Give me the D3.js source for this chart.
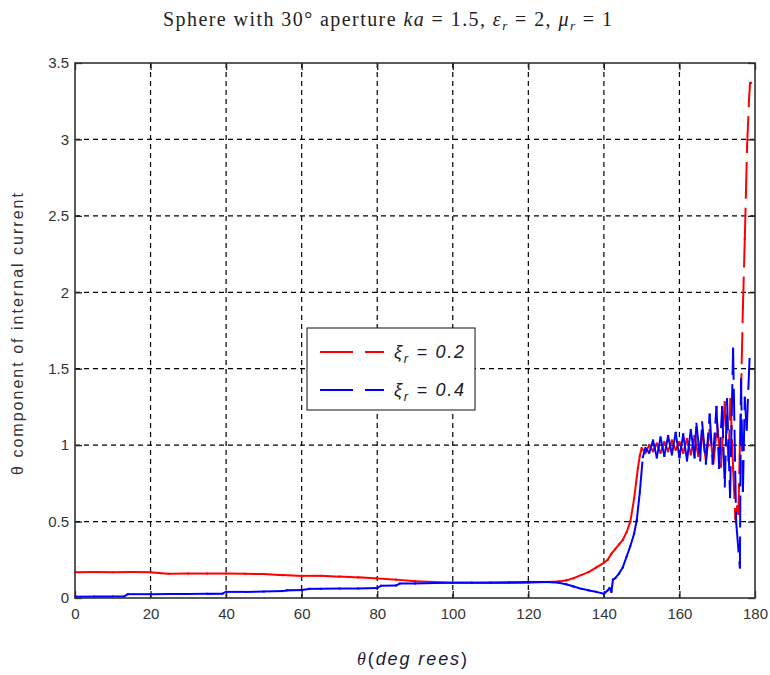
<!DOCTYPE html>
<html>
<head>
<meta charset="utf-8">
<script src="https://cdn.jsdelivr.net/npm/d3@7"></script>
<style>
  body { margin: 0; background: #fff; }
</style>
</head>
<body>
<div id="chart"></div>
<script>
// values
var xTicks = [0, 20, 40, 60, 80, 100, 120, 140, 160, 180];
var yTicks = [0, 0.5, 1, 1.5, 2, 2.5, 3, 3.5];

// xi_r = 0.2 (red)
var thetaXi02 = [0,5,10,15,20,25,30,35,40,45, 50,55,60,65,70,75,80,85,90,95,
    100,105,110,115,120,125,128,130,132,134, 136,138,140,141,142,143,144,145,146,147,
    148,148.5,149,149.5,150,151,152,153,154,155, 156,157,158,159,160,161,162,163,164,165,
    166,167,168,169,170,171,172,173,173.5,174.2, 174.8,175.3,175.6,176,176.8,177.3,177.6,177.9,178.4,178.7,
    179];
var currentXi02 = [0.168,0.17,0.168,0.17,0.168,0.158,0.16,0.16,0.16,0.158, 0.157,0.15,0.145,0.145,0.14,0.135,0.128,0.12,0.11,0.105,
    0.1,0.1,0.098,0.098,0.1,0.105,0.108,0.115,0.13,0.15, 0.17,0.2,0.23,0.25,0.29,0.32,0.35,0.38,0.43,0.5,
    0.65,0.75,0.85,0.93,0.98,0.95,1.0,0.96,1.01,0.95, 1.02,0.96,1.03,0.97,1.02,0.95,1.04,0.94,1.06,0.93,
    1.08,0.9,1.1,0.88,1.14,0.86,1.28,0.9,1.3,0.85, 0.52,0.6,0.55,1.0,1.9,2.35,2.65,2.95,3.25,3.37,
    3.37];

// xi_r = 0.4 (blue)
var thetaXi04 = [0,5,10,13,14,20,25,30,35,39, 40,45,50,55,56,60,62,65,70,75,
    80,81,85,86,90,95,100,105,110,115, 120,125,128,130,132,134,136,138,140,141,
    141.5,142,142.4,143,144,145,146,147,148,148.7, 149.5,150.3,151,152,153,154,155,156,157,158,
    159,160,161,162,163,164,164.5,165.5,166,167, 168,168.8,169.8,170.5,171.3,172,172.6,173.4,174.2,175,
    176,176.3,176.8,177.3,177.8,178.6];
var currentXi04 = [0.009,0.009,0.01,0.01,0.025,0.025,0.026,0.026,0.027,0.028, 0.04,0.04,0.042,0.045,0.05,0.052,0.06,0.06,0.062,0.062,
    0.065,0.08,0.082,0.095,0.095,0.098,0.1,0.1,0.102,0.103, 0.105,0.105,0.1,0.09,0.075,0.06,0.05,0.04,0.028,0.05,
    0.065,0.04,0.12,0.13,0.16,0.2,0.27,0.34,0.42,0.51, 0.69,0.92,0.98,0.95,1.03,0.92,1.05,0.93,1.06,0.94,
    1.08,0.92,1.07,0.9,1.1,0.92,1.14,0.9,1.15,0.88, 1.2,0.88,1.25,0.85,1.25,0.73,1.3,0.66,1.63,0.5,
    0.2,1.43,0.7,1.31,1.1,1.59];

var legendLabels = ["0.2", "0.4"];
var seriesColors = ["#ff0000", "#0000ff"];

var margin = {top: 63, right: 15, bottom: 77, left: 75},
    width = 770 - margin.left - margin.right,
    height = 675 - margin.top - margin.bottom;

var svg = d3.select("#chart").append("svg")
    .attr("width", 770)
    .attr("height", 675)
    .style("background", "#fff");

var g = svg.append("g")
    .attr("transform", "translate(" + margin.left + "," + margin.top + ")");

var x = d3.scaleLinear().domain([0, 180]).range([0, width]);
var y = d3.scaleLinear().domain([0, 3.5]).range([height, 0]);

// grid
g.append("g").selectAll("line")
    .data(xTicks.slice(1, -1))
    .enter().append("line")
    .attr("x1", function (d) { return x(d); })
    .attr("x2", function (d) { return x(d); })
    .attr("y1", 0)
    .attr("y2", height)
    .attr("stroke", "#000")
    .attr("stroke-width", 1.2)
    .attr("stroke-dasharray", "5,4");

g.append("g").selectAll("line")
    .data(yTicks.slice(1, -1))
    .enter().append("line")
    .attr("y1", function (d) { return y(d); })
    .attr("y2", function (d) { return y(d); })
    .attr("x1", 0)
    .attr("x2", width)
    .attr("stroke", "#000")
    .attr("stroke-width", 1.2)
    .attr("stroke-dasharray", "5,4");

// axes, ticks pointing inwards on all four sides
function styleAxis(sel) {
    sel.select(".domain").remove();
    sel.selectAll(".tick line").attr("stroke", "#222").attr("stroke-width", 1.3);
    sel.selectAll(".tick text")
        .style("font-family", "Liberation Sans, Arial, sans-serif")
        .style("font-size", "15px")
        .attr("fill", "#333");
}

g.append("g")
    .attr("transform", "translate(0," + height + ")")
    .call(d3.axisBottom(x).tickValues(xTicks).tickSizeInner(-7).tickSizeOuter(0).tickPadding(10))
    .call(styleAxis);

g.append("g")
    .call(d3.axisLeft(y).tickValues(yTicks).tickSizeInner(-7).tickSizeOuter(0).tickPadding(6)
        .tickFormat(function (d) { return String(d); }))
    .call(styleAxis);

g.append("g")
    .call(d3.axisTop(x).tickValues(xTicks).tickSizeInner(-7).tickSizeOuter(0).tickFormat(""))
    .call(styleAxis);

g.append("g")
    .attr("transform", "translate(" + width + ",0)")
    .call(d3.axisRight(y).tickValues(yTicks).tickSizeInner(-7).tickSizeOuter(0).tickFormat(""))
    .call(styleAxis);

// curves: every segment restarts its dash pattern, so dense parts look solid
function drawSeries(thetas, vals, color) {
    var pts = thetas.map(function (t, i) { return [t, vals[i]]; });
    g.append("g").selectAll("line")
        .data(d3.pairs(pts))
        .enter().append("line")
        .attr("x1", function (d) { return x(d[0][0]); })
        .attr("y1", function (d) { return y(d[0][1]); })
        .attr("x2", function (d) { return x(d[1][0]); })
        .attr("y2", function (d) { return y(d[1][1]); })
        .attr("stroke", color)
        .attr("stroke-width", 2)
        .attr("stroke-linecap", "square")
        .attr("stroke-dasharray", "30,11");
}

drawSeries(thetaXi02, currentXi02, seriesColors[0]);
drawSeries(thetaXi04, currentXi04, seriesColors[1]);

// frame
g.append("rect")
    .attr("x", 0).attr("y", 0)
    .attr("width", width).attr("height", height)
    .attr("fill", "none")
    .attr("stroke", "#333")
    .attr("stroke-width", 1.6);

// legend
var legend = svg.append("g").attr("transform", "translate(307,328)");
legend.append("rect")
    .attr("width", 168).attr("height", 82)
    .attr("fill", "#fff")
    .attr("stroke", "#111")
    .attr("stroke-width", 1);

var items = legend.selectAll(".item")
    .data(legendLabels)
    .enter().append("g")
    .attr("class", "item")
    .attr("transform", function (d, i) { return "translate(0," + (24 + i * 38) + ")"; });

items.append("line")
    .attr("x1", 13).attr("x2", 77)
    .attr("y1", 0).attr("y2", 0)
    .attr("stroke", function (d, i) { return seriesColors[i]; })
    .attr("stroke-width", 2)
    .attr("stroke-dasharray", "33,12");

var lt = items.append("text")
    .attr("x", 87)
    .attr("y", 6)
    .attr("textLength", 70)
    .attr("lengthAdjust", "spacing")
    .style("font-family", "Liberation Sans, Arial, sans-serif")
    .style("font-size", "18px")
    .style("font-style", "italic")
    .attr("fill", "#1a1a2a");
lt.append("tspan").text("ξ");
lt.append("tspan").attr("dy", 5).style("font-size", "13px").text("r");
lt.append("tspan").attr("dy", -5).text(function (d) { return " = " + d; });

// title
var title = svg.append("text")
    .attr("x", 163)
    .attr("y", 26)
    .attr("textLength", 449)
    .attr("lengthAdjust", "spacing")
    .style("font-family", "Liberation Serif, Times New Roman, serif")
    .style("font-size", "20px")
    .attr("fill", "#222");
title.append("tspan").text("Sphere with 30° aperture  ");
title.append("tspan").style("font-style", "italic").text("ka");
title.append("tspan").text(" = 1.5, ");
title.append("tspan").style("font-style", "italic").text("ε");
title.append("tspan").attr("dy", 4).style("font-size", "13px").style("font-style", "italic").text("r");
title.append("tspan").attr("dy", -4).text(" = 2, ");
title.append("tspan").style("font-style", "italic").text("μ");
title.append("tspan").attr("dy", 4).style("font-size", "13px").style("font-style", "italic").text("r");
title.append("tspan").attr("dy", -4).text(" = 1");

// axis labels
var xl = svg.append("text")
    .attr("x", 357)
    .attr("y", 665)
    .attr("textLength", 110)
    .attr("lengthAdjust", "spacing")
    .style("font-family", "Liberation Sans, Arial, sans-serif")
    .style("font-size", "18px")
    .style("font-style", "italic")
    .attr("fill", "#1a1a33");
xl.append("tspan").style("font-family", "Liberation Serif, serif").text("θ");
xl.append("tspan").style("font-style", "normal").text("(");
xl.append("tspan").text("deg rees");
xl.append("tspan").style("font-style", "normal").text(")");

svg.append("text")
    .attr("transform", "translate(23,334) rotate(-90)")
    .attr("text-anchor", "middle")
    .attr("textLength", 282)
    .attr("lengthAdjust", "spacing")
    .style("font-family", "Liberation Sans, Arial, sans-serif")
    .style("font-size", "16px")
    .attr("fill", "#333")
    .text("θ component of internal current");
</script>
</body>
</html>
